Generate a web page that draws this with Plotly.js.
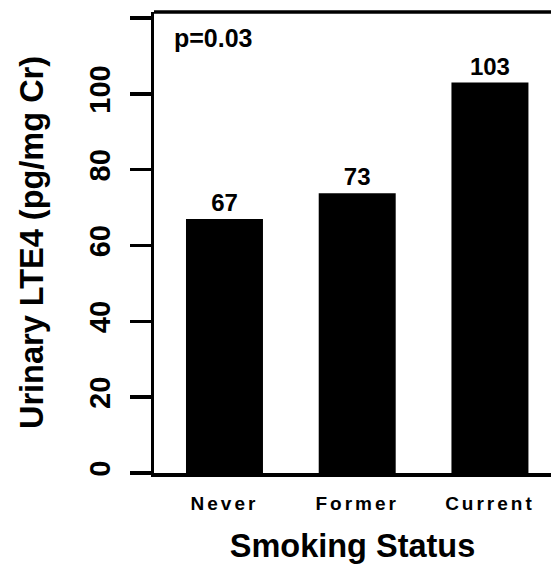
<!DOCTYPE html>
<html>
<head>
<meta charset="utf-8">
<script src="https://cdn.plot.ly/plotly-3.0.1.min.js"></script>
<style>
html,body{margin:0;padding:0;background:#fff;}
#chart .xtick text{letter-spacing:3px;}
</style>
</head>
<body>
<div id="chart" style="width:551px;height:565px;"></div>
<script>
const categories = ["Never", "Former", "Current"];
const lte4Values = [67, 73.8, 103];
const barLabels = ["67", "73", "103"];
const yTickVals = [0, 20, 40, 60, 80, 100, 120];
const yTickLabels = ["0", "20", "40", "60", "80", "100", ""];
const pValueText = "p=0.03";

const boldFont = {family: "Liberation Sans, Arial, sans-serif", color: "#000", weight: "bold"};

const trace = {
  type: "bar",
  x: categories,
  y: lte4Values,
  text: barLabels,
  textposition: "outside",
  textfont: Object.assign({}, boldFont, {size: 24}),
  cliponaxis: false,
  width: 0.58,
  marker: {color: "#000", line: {width: 0}},
  hoverinfo: "skip"
};

const layout = {
  width: 551,
  height: 565,
  margin: {l: 154, r: 0, t: 12, b: 92, pad: 0},
  paper_bgcolor: "#fff",
  plot_bgcolor: "#fff",
  showlegend: false,
  font: Object.assign({}, boldFont, {size: 20}),
  xaxis: {
    type: "category",
    range: [-0.531, 2.46],
    showline: true,
    linecolor: "#000",
    linewidth: 3.5,
    ticks: "",
    showgrid: false,
    zeroline: false,
    tickfont: Object.assign({}, boldFont, {size: 19}),
    ticklabelstandoff: 11,
    title: {text: "Smoking Status", font: Object.assign({}, boldFont, {size: 32.5}), standoff: 22},
    automargin: false
  },
  yaxis: {
    range: [0, 121.6],
    tickvals: yTickVals,
    ticktext: yTickLabels,
    tickangle: -90,
    ticks: "outside",
    ticklen: 21,
    tickwidth: 3.5,
    tickcolor: "#000",
    showline: true,
    linecolor: "#000",
    linewidth: 3.5,
    showgrid: false,
    zeroline: false,
    tickfont: Object.assign({}, boldFont, {size: 29}),
    ticklabelstandoff: 8,
    title: {text: "Urinary LTE4 (pg/mg Cr)", font: Object.assign({}, boldFont, {size: 32.5}), standoff: 31},
    automargin: false
  },
  shapes: [{
    type: "line", xref: "paper", yref: "paper",
    x0: 0, x1: 1, y0: 1, y1: 1,
    line: {color: "#000", width: 3.5}
  }],
  annotations: [{
    xref: "paper", yref: "paper",
    x: 0.045, y: 0.978,
    xanchor: "left", yanchor: "top",
    showarrow: false,
    text: pValueText,
    font: Object.assign({}, boldFont, {size: 25})
  }]
};

Plotly.newPlot("chart", [trace], layout, {displayModeBar: false, staticPlot: true});
</script>
</body>
</html>
